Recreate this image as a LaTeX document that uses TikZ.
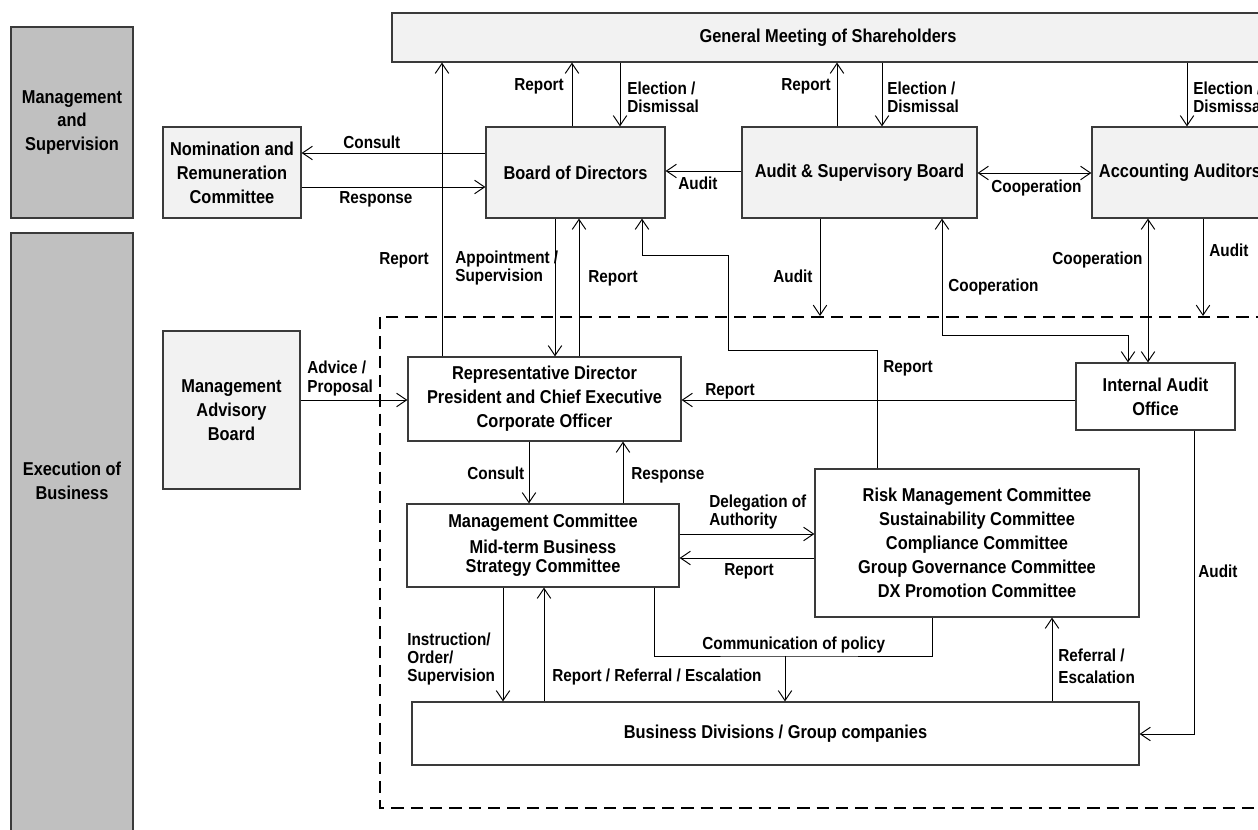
\documentclass[tikz,border=0pt]{standalone}
\usepackage{fontspec}
\setmainfont{Liberation Sans}[FakeStretch=0.88]
\usetikzlibrary{arrows.meta}
\definecolor{bandgray}{HTML}{C0C0C0}
\definecolor{boxgray}{HTML}{F2F2F2}
\definecolor{edgegray}{HTML}{3A3A3A}
\newcommand{\chartboxfont}{\fontsize{10.6pt}{13.6pt}\selectfont\bfseries}
\newcommand{\chartlabelfont}{\fontsize{9.9pt}{10.3pt}\selectfont\bfseries}
\tikzset{
  flowarrow/.style={-{Straight Barb[length=2mm,width=2.7mm]}, line width=0.55pt},
  twoway/.style={{Straight Barb[length=2mm,width=2.7mm]}-{Straight Barb[length=2mm,width=2.7mm]}, line width=0.55pt},
  plainline/.style={line width=0.55pt},
  band/.style={draw=edgegray, fill=bandgray, line width=0.6pt, align=center, font=\chartboxfont},
  organ/.style={draw=edgegray, fill=boxgray, line width=0.7pt, align=center, font=\chartboxfont, inner sep=0pt},
  unit/.style={draw=edgegray, fill=white, line width=0.7pt, align=center, font=\chartboxfont, inner sep=0pt},
  relabel/.style={font=\chartlabelfont, align=left, inner sep=0pt, anchor=west},
  scopebox/.style={dash pattern=on 7pt off 4pt, line width=1.3pt}
}

\begin{document}
\begin{tikzpicture}[x=0.02cm, y=-0.02cm]
  \useasboundingbox (0,0) rectangle (1258,830);
  \clip (0,0) rectangle (1258,830);

  % side bands
  \node[band, minimum width=2.44cm, minimum height=3.82cm] (mgmtband) at (72,122.5) {Management\\and\\Supervision};
  \draw[band] (11,233) rectangle (133,850);
  \node[font=\chartboxfont, align=center] (execband) at (72,481) {Execution of\\Business};

  % execution area
  \draw[scopebox] (380,317) rectangle (1280,808);

  % boxes
  \node[organ, minimum width=17.44cm, minimum height=0.98cm] (gms) at (828,37.5) {General Meeting of Shareholders};
  \node[organ, minimum width=2.76cm, minimum height=1.82cm] (nrc) at (232,172.5) {Nomination and\\Remuneration\\Committee};
  \node[organ, minimum width=3.58cm, minimum height=1.82cm] (bod) at (575.5,172.5) {Board of Directors};
  \node[organ, minimum width=4.7cm, minimum height=1.82cm] (asb) at (859.5,172.5) {Audit \& Supervisory Board};
  \node[organ, minimum width=3.52cm, minimum height=1.82cm] (aca) at (1180,172.5) {Accounting Auditors};
  \node[organ, minimum width=2.74cm, minimum height=3.16cm] (mab) at (231.5,410) {Management\\Advisory\\Board};
  \node[unit, minimum width=5.46cm, minimum height=1.68cm] (rep) at (544.5,399) {Representative Director\\President and Chief Executive\\Corporate Officer};
  \node[unit, minimum width=5.44cm, minimum height=1.66cm] (mgc) at (543,545.5) {Management Committee\\[0.04cm]Mid-term Business\\[-0.1cm]Strategy Committee};
  \node[unit, minimum width=6.48cm, minimum height=2.96cm] (rmc) at (977,543) {Risk Management Committee\\Sustainability Committee\\Compliance Committee\\Group Governance Committee\\DX Promotion Committee};
  \node[unit, minimum width=3.18cm, minimum height=1.34cm] (iao) at (1155.5,396.5) {Internal Audit\\Office};
  \node[unit, minimum width=14.54cm, minimum height=1.26cm] (bdg) at (775.5,733.5) {Business Divisions / Group companies};

  % connectors, upper part
  \draw[flowarrow] (rep.north -| 442,0) -- (gms.south -| 442,0);
  \draw[flowarrow] (bod.north -| 572,0) -- (gms.south -| 572,0);
  \draw[flowarrow] (gms.south -| 620,0) -- (bod.north -| 620,0);
  \draw[flowarrow] (asb.north -| 837,0) -- (gms.south -| 837,0);
  \draw[flowarrow] (gms.south -| 882,0) -- (asb.north -| 882,0);
  \draw[flowarrow] (gms.south -| 1187,0) -- (aca.north -| 1187,0);
  \draw[flowarrow] (bod.west |- 0,153) -- (nrc.east |- 0,153);
  \draw[flowarrow] (nrc.east |- 0,187) -- (bod.west |- 0,187);
  \draw[flowarrow] (asb.west |- 0,171) -- (bod.east |- 0,171);
  \draw[twoway] (asb.east |- 0,173) -- (aca.west |- 0,173);
  \draw[flowarrow] (bod.south -| 555,0) -- (rep.north -| 555,0);
  \draw[flowarrow] (rep.north -| 579,0) -- (bod.south -| 579,0);
  \draw[flowarrow] (rmc.north -| 877,0) |- (728,350) |- (642,255) -- (bod.south -| 642,0);

  % audit and cooperation
  \coordinate (asbaudit) at (820,316);
  \coordinate (acaaudit) at (1203,316);
  \draw[flowarrow] (asb.south -| asbaudit) -- (asbaudit);
  \draw[flowarrow] (aca.south -| acaaudit) -- (acaaudit);
  \draw[twoway] (asb.south -| 942,0) |- (1128,335) -- (iao.north -| 1128,0);
  \draw[twoway] (aca.south -| 1148,0) -- (iao.north -| 1148,0);
  \draw[flowarrow] (iao.west |- 0,400) -- (rep.east |- 0,400);
  \draw[flowarrow] (mab.east |- 0,400) -- (rep.west |- 0,400);

  % connectors, execution
  \draw[flowarrow] (rep.south -| 529,0) -- (mgc.north -| 529,0);
  \draw[flowarrow] (mgc.north -| 623,0) -- (rep.south -| 623,0);
  \draw[flowarrow] (mgc.east |- 0,534) -- (rmc.west |- 0,534);
  \draw[flowarrow] (rmc.west |- 0,558) -- (mgc.east |- 0,558);
  \draw[flowarrow] (mgc.south -| 503,0) -- (bdg.north -| 503,0);
  \draw[flowarrow] (bdg.north -| 544,0) -- (mgc.south -| 544,0);
  \coordinate (policy) at (785,656);
  \draw[plainline] (mgc.south -| 654,0) |- (policy) -| (rmc.south -| 932,0);
  \draw[flowarrow] (policy) -- (bdg.north -| policy);
  \draw[flowarrow] (bdg.north -| 1052,0) -- (rmc.south -| 1052,0);
  \draw[flowarrow] (iao.south -| 1194,0) |- (bdg.east |- 0,734);

  % labels
  \node[relabel] (lrep1) at (379,260) {Report};
  \node[relabel] (lrep2) at (514,86) {Report};
  \node[relabel] (lelec1) at (627,97.5) {Election /\\Dismissal};
  \node[relabel] (lrep3) at (781,86) {Report};
  \node[relabel] (lelec2) at (887,97.5) {Election /\\Dismissal};
  \node[relabel] (lelec3) at (1193,97.5) {Election /\\Dismissal};
  \node[relabel] (lcons1) at (343,142) {Consult};
  \node[relabel] (lresp1) at (339,199) {Response};
  \node[relabel] (laud1) at (678,183) {Audit};
  \node[relabel] (lcoop1) at (991,188) {Cooperation};
  \node[relabel] (lappt) at (455,268) {Appointment /\\Supervision};
  \node[relabel] (lrep4) at (588,278) {Report};
  \node[relabel] (lrep5) at (883,368) {Report};
  \node[relabel] (laud2) at (773,276) {Audit};
  \node[relabel] (laud3) at (1209,250) {Audit};
  \node[relabel] (lcoop2) at (948,287) {Cooperation};
  \node[relabel] (lcoop3) at (1052,260) {Cooperation};
  \node[relabel] (lrep6) at (705,391) {Report};
  \node[relabel] (ladv) at (307,378.5) {Advice /\\Proposal};
  \node[relabel] (lcons2) at (467,473) {Consult};
  \node[relabel] (lresp2) at (631,475) {Response};
  \node[relabel] (ldel) at (709,512) {Delegation of\\Authority};
  \node[relabel] (lrep7) at (724,571) {Report};
  \node[relabel] (linst) at (407,659) {Instruction/\\Order/\\Supervision};
  \node[relabel] (lrre) at (552,677) {Report / Referral / Escalation};
  \node[relabel] (lpol) at (702,645) {Communication of policy};
  \node[relabel] (lref) at (1058,666) {Referral /\\[0.08cm]Escalation};
  \node[relabel] (laud4) at (1198,571) {Audit};
\end{tikzpicture}
\end{document}
